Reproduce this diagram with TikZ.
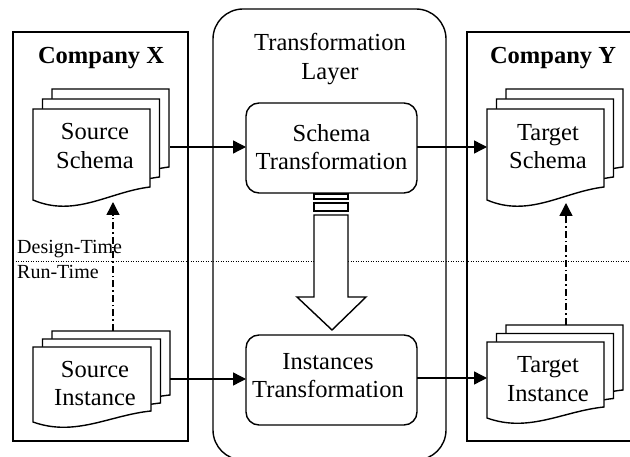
\documentclass[tikz,border=0pt]{standalone}
\usepackage{fontspec}
\setmainfont{Liberation Serif}
\usetikzlibrary{arrows.meta}
\newcommand\docshape[5]{% x y w h a
  \draw[docline] (#1,#2) -- ({#1+#3},#2) -- ({#1+#3},{#2+#4-#5})
    .. controls ({#1+0.65*#3},{#2+#4-0.62*#5}) and ({#1+0.36*#3},{#2+#4+1.38*#5}) .. (#1,{#2+#4}) -- cycle;}
\begin{document}
\begin{tikzpicture}[x=1pt,y=-1pt,
  docline/.style={draw=black, fill=white, line width=1.4pt},
  box/.style={draw, line width=1.4pt, inner sep=0pt, outer sep=0pt},
  txt/.style={font=\fontsize{24.5}{28.5}\selectfont, align=center, inner sep=0pt},
  small/.style={font=\fontsize{20}{24}\selectfont, inner sep=0pt, anchor=west},
  arr/.style={line width=1.4pt, -{Triangle[length=13pt,width=13pt]}},
  dda/.style={line width=1.4pt, dash pattern=on 7pt off 3pt on 1.5pt off 3pt, -{Triangle[length=13pt,width=13pt]}}]
\useasboundingbox (0,0) rectangle (630,457);
\clip (0,0) rectangle (630,457);

% containers
\node[box, rounded corners=30pt, minimum width=233pt, minimum height=451pt] (tl) at (329.5,234.5) {};
\node[box, minimum width=175pt, minimum height=409pt] (cx) at (100.5,236.5) {};
\node[box, minimum width=233pt, minimum height=409pt] (cy) at (583.5,236.5) {};

% design-time / run-time separator
\coordinate (sepL) at (13,261);
\coordinate (sepR) at (630,261);
\draw[line width=0.9pt, dash pattern=on 1pt off 1.5pt] (sepL) -- (sepR);
\node[small] (dt) at (17,249) {Design-Time};
\node[small] (rt) at (17,272) {Run-Time};

% headers
\node[txt] (hx) at (101,58) {\bfseries Company X};
\node[txt] (hy) at (553,58) {\bfseries Company Y};
\node[txt] (htl) at (330,59) {Transformation\\Layer};

% document stacks
\docshape{52}{89}{117}{91}{13}
\docshape{42.5}{99}{117}{91}{13}
\docshape{33}{109}{117}{91}{13}
\node[txt] (ss) at (95,146) {Source\\Schema};

\docshape{52}{331}{118}{75}{11}
\docshape{42.5}{339}{118}{75}{11}
\docshape{33}{347}{118}{75}{11}
\node[txt] (si) at (95,383.5) {Source\\Instance};

\docshape{506}{89}{117}{91}{13}
\docshape{496.5}{99}{117}{91}{13}
\docshape{487}{109}{117}{91}{13}
\node[txt] (ts) at (548,146.5) {Target\\Schema};

\docshape{506}{325}{117}{76}{11}
\docshape{496.5}{333.5}{117}{76}{11}
\docshape{487}{342}{117}{76}{11}
\node[txt] (ti) at (548,379) {Target\\Instance};

% transformation boxes
\node[box, rounded corners=13pt, minimum width=171pt, minimum height=90pt] (st) at (331.5,148) {};
\node[txt] (stt) at (331.5,147) {Schema\\Transformation};
\node[box, rounded corners=13pt, minimum width=171pt, minimum height=90pt] (it) at (331.5,380) {};
\node[txt] (itt) at (328,375.5) {Instances\\Transformation};

% striped block arrow
\draw[line width=1.4pt, fill=white] (314,194) rectangle (348,199);
\draw[line width=1.4pt, fill=white] (314,203) rectangle (348,211);
\draw[line width=1.4pt, fill=white, line join=miter] (314,215) -- (314,297) -- (297,297) -- (332,330) -- (366,297) -- (348,297) -- (348,215) -- cycle;

% connector end points
\coordinate (ssR) at (170,147);
\coordinate (tsL) at (487,147);
\coordinate (siR) at (170,379);
\coordinate (tiL) at (487,378);
\coordinate (siT) at (113,331);
\coordinate (ssB) at (113,202);
\coordinate (tiT) at (566,325);
\coordinate (tsB) at (566,203);

\draw[arr] (ssR) -- (ssR -| st.west);
\draw[arr] (st.east |- tsL) -- (tsL);
\draw[arr] (siR) -- (siR -| it.west);
\draw[arr] (it.east |- tiL) -- (tiL);
\draw[dda] (siT) -- (ssB);
\draw[dda] (tiT) -- (tsB);
\end{tikzpicture}
\end{document}
